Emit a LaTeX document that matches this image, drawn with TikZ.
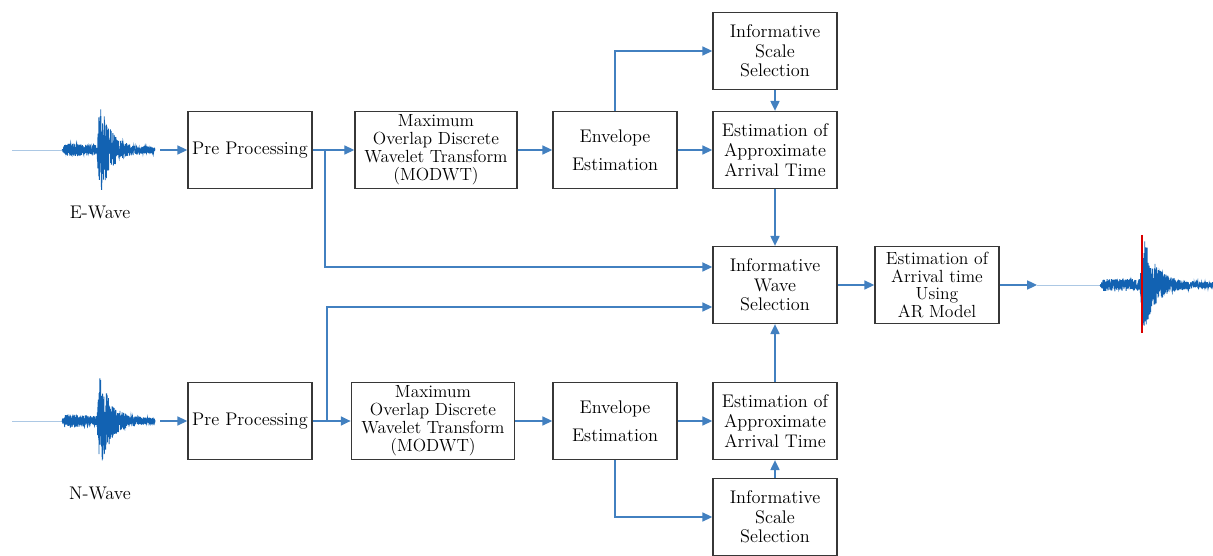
\documentclass[tikz,border=0pt]{standalone}
\usepackage{tikz}
\usetikzlibrary{arrows.meta, positioning, calc}
\definecolor{flowcolor}{RGB}{66,128,192}
\definecolor{boxcolor}{RGB}{55,55,55}
\definecolor{wavecolor}{RGB}{18,98,178}

\tikzset{
    block/.style={draw=boxcolor, line width=1.1pt, minimum width=3.1cm, minimum height=1.92cm,
        align=center, inner sep=1pt, text=black, font=\fontsize{13}{14}\selectfont},
    flow/.style={draw=flowcolor, line width=0.9pt, -{Triangle[length=7pt,width=6.5pt]}},
    baseline/.style={draw=wavecolor!35, line width=0.5pt},
    signal/.style={draw=wavecolor, line width=0.6pt},
    label/.style={text=black, font=\fontsize{13}{14}\selectfont},
    declare function={
        envin(\t)=(\t<35) ? 7*min(1,\t/3)-2*\t/35 : ((\t<38) ? 5+15*(\t-35) : 3+46*exp(-(\t-38)/11));
        envout(\t)=(\t<40) ? 6*min(1,\t/3) : ((\t<44) ? 6+11*(\t-40) : 3+46*exp(-(\t-44)/12));
    }
}

\begin{document}
\begin{tikzpicture}[x=0.025cm, y=-0.025cm]
\useasboundingbox (0,0) rectangle (1213,556);
\pgfmathsetseed{11}

% E branch
\node[block] (preE) at (250,150) {Pre Processing};
\node[block, minimum width=4.05cm, font=\fontsize{12.5}{12.8}\selectfont] (modE) at (436,150) {Maximum\\Overlap Discrete\\Wavelet Transform\\(MODWT)};
\node[block] (envE) at (615,150) {Envelope\\[6pt]Estimation};
\node[block] (scaleE) at (775,51) {Informative\\Scale\\Selection};
\node[block] (apprE) at (775,150) {Estimation of\\Approximate\\Arrival Time};

% common part
\node[block] (wave) at (775,285) {Informative\\Wave\\Selection};
\node[block, font=\fontsize{12.5}{12.6}\selectfont] (arr) at (937,285) {Estimation of\\Arrival time\\Using\\AR Model};

% N branch
\node[block] (preN) at (250,421) {Pre Processing};
\node[block, minimum width=4.08cm, font=\fontsize{12.5}{12.8}\selectfont] (modN) at (433,421) {Maximum\\Overlap Discrete\\Wavelet Transform\\(MODWT)};
\node[block] (envN) at (615,421) {Envelope\\[6pt]Estimation};
\node[block] (apprN) at (775,421) {Estimation of\\Approximate\\Arrival Time};
\node[block] (scaleN) at (775,517) {Informative\\Scale\\Selection};

\node[label] (labE) at (100,212) {E-Wave};
\node[label] (labN) at (100,493) {N-Wave};

% signals
\coordinate (inE) at (160,150);
\coordinate (inN) at (160,421);
\coordinate (out) at (1037,285);
\draw[baseline] (12,150) -- (62,150);
\draw[signal] plot[domain=0:93, samples=700] ({62+\x}, {150+envin(\x)*rand});
\draw[baseline] (12,421) -- (62,421);
\draw[signal] plot[domain=0:93, samples=700] ({62+\x}, {421+envin(\x)*rand});
\draw[baseline] (out) -- (1213,285);
\draw[signal] plot[domain=0:113, samples=800] ({1100+\x}, {285+envout(\x)*rand});
\draw[red!85!black, line width=1.1pt] (1142,235) -- (1142,333);

% connectors
\coordinate (splitE) at (325,150);
\coordinate (splitN) at (327,421);
\coordinate (wE) at ([yshift=0.45cm]wave.west);
\coordinate (wN) at ([yshift=-0.55cm]wave.west);
\draw[flow] (inE) -- (preE);
\draw[flow] (preE) -- (modE);
\draw[flow] (splitE) |- (wE);
\draw[flow] (modE) -- (envE);
\draw[flow] (envE.north) |- (scaleE.west);
\draw[flow] (envE) -- (apprE);
\draw[flow] (scaleE) -- (apprE);
\draw[flow] (apprE) -- (wave);
\draw[flow] (inN) -- (preN);
\draw[flow] (preN) -- (modN);
\draw[flow] (splitN) |- (wN);
\draw[flow] (modN) -- (envN);
\draw[flow] (envN.south) |- (scaleN.west);
\draw[flow] (envN) -- (apprN);
\draw[flow] (scaleN) -- (apprN);
\draw[flow] (apprN) -- (wave);
\draw[flow] (wave) -- (arr);
\draw[flow] (arr) -- (out);
\end{tikzpicture}
\end{document}
